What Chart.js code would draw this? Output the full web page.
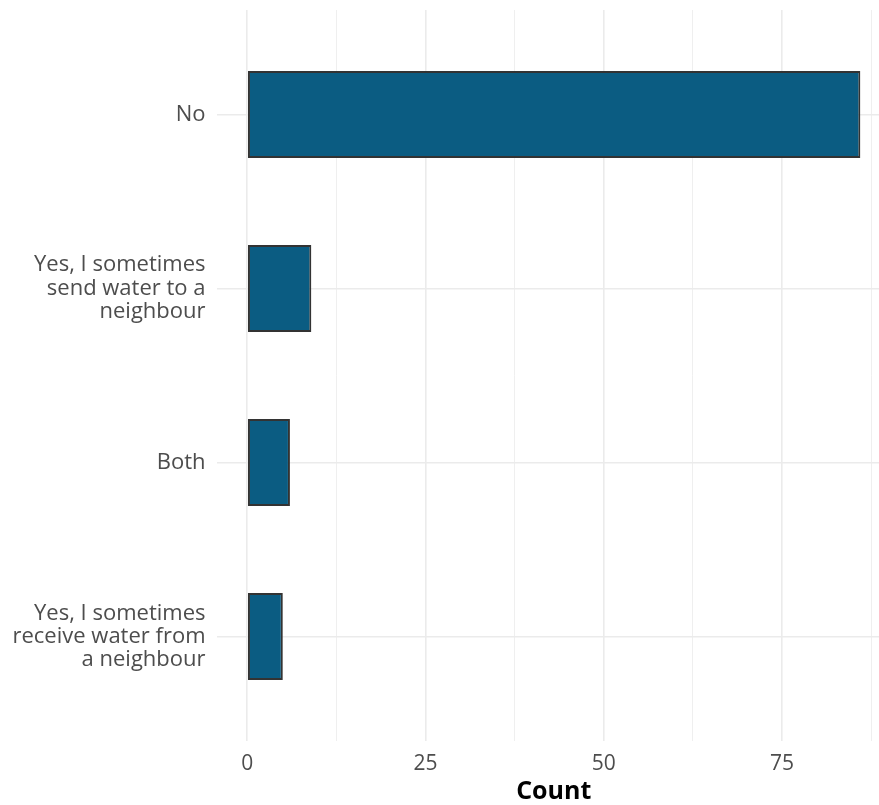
<!DOCTYPE html>
<html>
<head>
<meta charset="utf-8">
<script src="https://cdn.jsdelivr.net/npm/chart.js@4"></script>
<style>
  html, body { margin: 0; padding: 0; background: #fff; overflow: hidden; }
  #wrap { width: 891px; height: 805px; }
</style>
</head>
<body>
<div id="wrap"><canvas id="chart"></canvas></div>
<script>
// Answers, top to bottom
const categories = [
  ['No'],
  ['Yes, I sometimes', 'send water to a', 'neighbour'],
  ['Both'],
  ['Yes, I sometimes', 'receive water from', 'a neighbour'],
];
const counts = [86, 9, 6, 5];

// x axis: major ticks labelled, minor ticks only gridlines
const xMajorTicks = [0, 25, 50, 75];
const xMinorTicks = [12.5, 37.5, 62.5, 87.5];

const GRID = '#ebebeb';
const TEXT = '#4d4d4d';

const points = categories.map((c, i) => ({ x: counts[i], y: i }));

new Chart(document.getElementById('chart'), {
  type: 'bar',
  data: {
    datasets: [{
      data: points,
      backgroundColor: '#0b5c82',
      borderColor: '#333333',
      borderWidth: 2,
      borderSkipped: false,
      categoryPercentage: 0.5,
      barPercentage: 1,
    }],
  },
  options: {
    indexAxis: 'y',
    responsive: true,
    maintainAspectRatio: false,
    animation: false,
    layout: { padding: { top: 10, left: 0, right: 0, bottom: 0 } },
    plugins: {
      legend: { display: false },
      tooltip: { enabled: false },
    },
    scales: {
      x: {
        type: 'linear',
        min: -4.3,
        max: 90.3,
        afterBuildTicks: (scale) => {
          scale.ticks = [...xMajorTicks, ...xMinorTicks]
            .sort((a, b) => a - b)
            .map((v) => ({ value: v }));
        },
        afterFit: (scale) => {
          scale.height = 64;
          scale.paddingLeft = 0;
          scale.paddingRight = 0;
        },
        border: { display: false },
        grid: {
          drawTicks: false,
          color: GRID,
          lineWidth: (ctx) => (xMajorTicks.includes(ctx.tick?.value) ? 1.6 : 0.8),
        },
        ticks: {
          autoSkip: false,
          maxRotation: 0,
          padding: 10,
          color: TEXT,
          font: { family: 'Open Sans', size: 21 },
          callback: (v) => (xMajorTicks.includes(v) ? String(v) : ''),
        },
        title: {
          display: true,
          text: 'Count',
          color: '#000',
          padding: { top: 0, bottom: -2 },
          font: { family: 'Open Sans', size: 25, weight: 'bold' },
        },
      },
      y: {
        type: 'linear',
        reverse: true,
        offset: false,
        min: -0.6,
        max: 3.6,
        afterBuildTicks: (scale) => {
          scale.ticks = categories.map((c, i) => ({ value: i }));
        },
        afterFit: (scale) => {
          scale.width = 216.5;
          scale.paddingTop = 0;
          scale.paddingBottom = 0;
        },
        border: { display: false },
        grid: { offset: false, drawTicks: false, color: GRID, lineWidth: 1.6 },
        ticks: {
          autoSkip: false,
          padding: 11,
          color: TEXT,
          font: { family: 'Open Sans', size: 22, lineHeight: 1.06 },
          callback: (v) => categories[v],
        },
      },
    },
  },
});
</script>
</body>
</html>
